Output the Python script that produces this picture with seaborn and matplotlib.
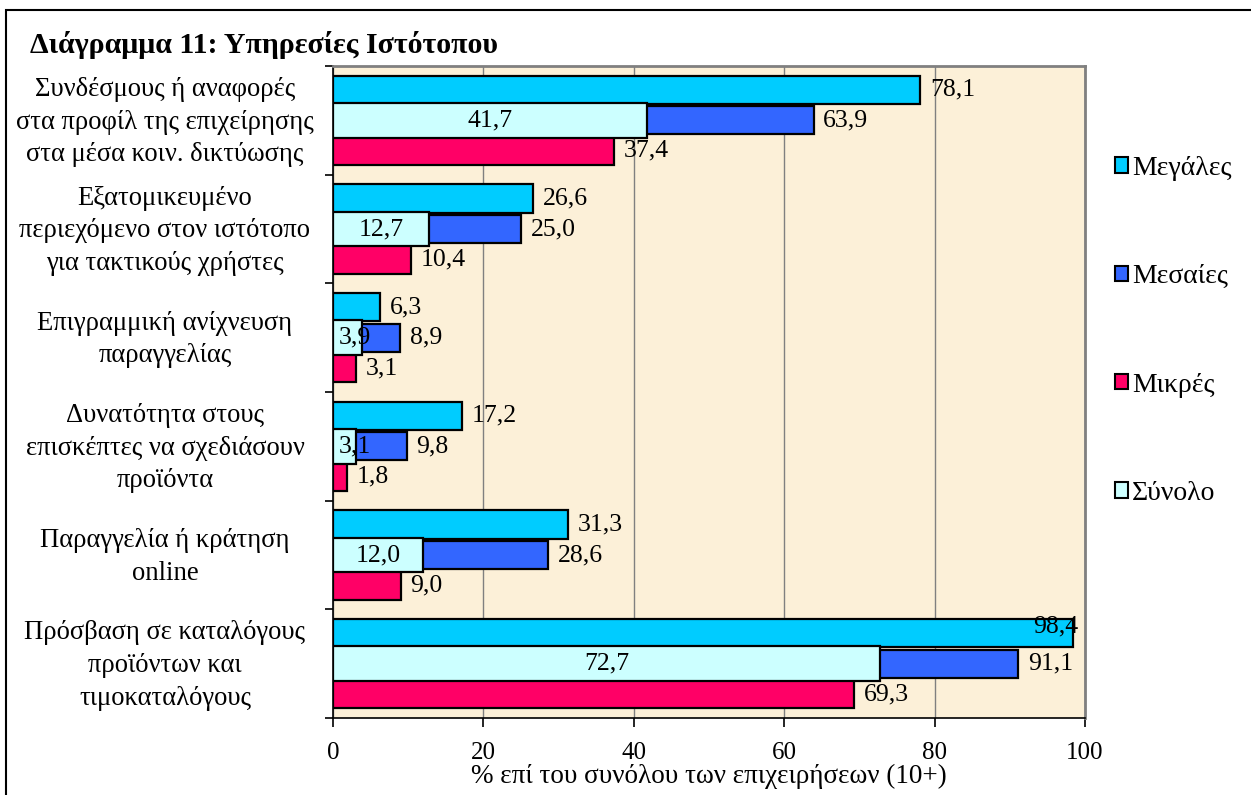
import numpy as np
import pandas as pd
import seaborn as sns
import matplotlib.pyplot as plt
from matplotlib.patches import Patch, Rectangle
from matplotlib.transforms import ScaledTranslation

categories = [
    "Συνδέσμους ή αναφορές\nστα προφίλ της επιχείρησης\nστα μέσα κοιν. δικτύωσης",
    "Εξατομικευμένο\nπεριεχόμενο στον ιστότοπο\nγια τακτικούς χρήστες",
    "Επιγραμμική ανίχνευση\nπαραγγελίας",
    "Δυνατότητα στους\nεπισκέπτες να σχεδιάσουν\nπροϊόντα",
    "Παραγγελία ή κράτηση\nonline",
    "Πρόσβαση σε καταλόγους\nπροϊόντων και\nτιμοκαταλόγους",
]
series = ["Μεγάλες", "Μεσαίες", "Μικρές"]
megales = [78.1, 26.6, 6.3, 17.2, 31.3, 98.4]
mesaies = [63.9, 25.0, 8.9, 9.8, 28.6, 91.1]
mikres = [37.4, 10.4, 3.1, 1.8, 9.0, 69.3]
synolo = [41.7, 12.7, 3.9, 3.1, 12.0, 72.7]
total_name = "Σύνολο"

colors = {"Μεγάλες": "#00CCFF", "Μεσαίες": "#3366FF", "Μικρές": "#FF0066"}
total_color = "#CCFFFF"

plt.rcParams["font.family"] = ["Liberation Serif", "DejaVu Serif"]
plt.rcParams["font.size"] = 18.5

df = pd.DataFrame({
    "cat": categories * 3,
    "series": np.repeat(series, len(categories)),
    "value": megales + mesaies + mikres,
})
df_tot = pd.DataFrame({"cat": categories, "value": synolo})

fig = plt.figure(figsize=(12.51, 7.95), dpi=100)
ax = fig.add_axes([333 / 1251, 1 - 718 / 795, 752 / 1251, 652 / 795])
ax.set_facecolor("#FCF0D8")
ax.set_axisbelow(True)

sns.barplot(data=df, y="cat", x="value", hue="series", hue_order=series,
            order=categories, orient="h", palette=colors, saturation=1,
            width=0.84, gap=0.07, edgecolor="black", linewidth=1.6,
            errorbar=None, legend=False, ax=ax)
sns.barplot(data=df_tot, y="cat", x="value", order=categories, orient="h",
            color=total_color, saturation=1, width=0.32, edgecolor="black",
            linewidth=1.6, errorbar=None, ax=ax)


def fmt(v):
    return f"{v:.1f}".replace(".", ",")


# value labels, taken from the drawn bars
for i, cont in enumerate(ax.containers):
    for p in cont.patches:
        w = p.get_width()
        yc = p.get_y() + p.get_height() / 2
        if i == 3:
            if w / 2 < 3:
                ax.annotate(fmt(w), (0, yc), xytext=(4, 0), textcoords="offset points",
                            ha="left", va="center")
            else:
                ax.annotate(fmt(w), (w / 2, yc), ha="center", va="center")
        elif w > 95:
            ax.annotate(fmt(w), (w, yc), xytext=(4, 5), textcoords="offset points",
                        ha="right", va="center")
        else:
            ax.annotate(fmt(w), (w, yc), xytext=(7, 0), textcoords="offset points",
                        ha="left", va="center")

ax.set_xlim(0, 100)
ax.set_ylim(len(categories) - 0.5, -0.5)
ax.set_xticks(range(0, 101, 20))
ax.set_yticks(range(len(categories)))
ax.set_yticklabels(categories, ha="center", multialignment="center",
                   linespacing=1.4, fontsize=19.2)
ax.set_yticks(np.arange(-0.5, len(categories), 1), minor=True)
ax.tick_params(axis="y", which="major", length=0, pad=121)
ax.tick_params(axis="y", which="minor", length=6, width=1.2, direction="out")
ax.tick_params(axis="x", length=6.5, width=1.2, direction="out", pad=11, labelsize=18)
# nudge the category labels up a little
shift = ScaledTranslation(0, 5 / 100, fig.dpi_scale_trans)
for lab in ax.get_yticklabels():
    lab.set_transform(lab.get_transform() + shift)
ax.set_ylabel("")
ax.set_xlabel("% επί του συνόλου των επιχειρήσεων (10+)", labelpad=0, fontsize=19.5)

ax.xaxis.grid(True, color="#808080", linewidth=1)
ax.yaxis.grid(False)
for s in ["left", "bottom"]:
    ax.spines[s].set_color("black")
    ax.spines[s].set_linewidth(1.2)
for s in ["top", "right"]:
    ax.spines[s].set_color("#808080")
    ax.spines[s].set_linewidth(2)

handles = [Patch(facecolor=colors[s], edgecolor="black", linewidth=1.5) for s in series]
handles.append(Patch(facecolor=total_color, edgecolor="black", linewidth=1.5))
fig.legend(handles, series + [total_name], loc="upper left",
           bbox_to_anchor=(1115 / 1251, 1 - 156 / 795), frameon=False,
           fontsize=20, handlelength=0.47, handleheight=0.47, handletextpad=0.15,
           labelspacing=3.0, borderpad=0, borderaxespad=0)

fig.text(30 / 1251, 1 - 45 / 795, "Διάγραμμα 11: Υπηρεσίες Ιστότοπου",
         fontweight="bold", fontsize=21.5, ha="left", va="center")

fig.add_artist(Rectangle((6 / 1251, -0.05), 1.2, 1.05 - 10 / 795,
                         transform=fig.transFigure, fill=False,
                         edgecolor="black", linewidth=1.5, clip_on=False))

fig.savefig("out.png", dpi=100)
